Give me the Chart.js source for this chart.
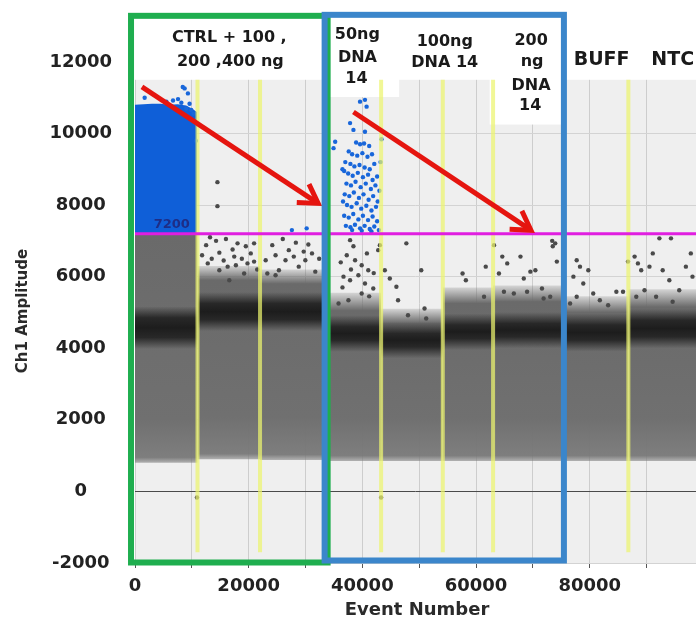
<!DOCTYPE html>
<html>
<head>
<meta charset="utf-8">
<script src="https://cdn.jsdelivr.net/npm/chart.js@4.4.1/dist/chart.umd.min.js"></script>
<style>
html,body{margin:0;padding:0;background:#fff;overflow:hidden}
#wrap{width:700px;height:621px;position:relative;overflow:hidden}
canvas{display:block}
</style>
</head>
<body>
<div id="wrap"><canvas id="c" width="700" height="621"></canvas></div>
<script>
// ---------------- DATA ----------------
// wells: event-number ranges and droplet-band amplitudes
const wellStart  = [0, 11000, 22000, 33600, 43300, 54150, 63000, 75300, 86800];
const wellEnd    = [11000, 22000, 33100, 43300, 54150, 63000, 75300, 86800, 98700];
const cloudLow   = [800, 900, 880, 850, 850, 850, 850, 850, 850];
const cloudHigh  = [7200, 5900, 5800, 5050, 4700, 5250, 5300, 5000, 5150];
const fringeHigh = [7200, 6300, 6200, 5550, 5100, 5700, 5750, 5450, 5650];
const coreLow    = [4300, 4800, 4800, 4220, 4040, 4270, 4320, 4230, 4320];
const coreHigh   = [4850, 5250, 5250, 4600, 4410, 4650, 4690, 4650, 4780];
// well separators (yellow)
const separators = [11000, 22000, 43300, 54150, 63000, 86800];
// threshold
const threshold = 7200;
// dense positive block of control well (top edge)
const positiveTopX = [0, 1500, 3000, 4500, 6000, 7500, 9000, 10000, 10900];
const positiveTopY = [10800, 10820, 10830, 10830, 10800, 10820, 10780, 10700, 10600];
// scattered positive droplets (blue)
const positiveDrops = [
 [8730,11260],[9310,11120],[6690,10920],[8150,10860],[9600,10830],[9890,10660],[10300,10550],[9020,10700],
 [7570,10960],[5530,10890],[1700,11000],[8400,11300],[10500,10300],[10700,9800],[27600,7300],[30200,7350],
 [39590,10890],[40460,10940],[40750,10750],[37840,10290],[38430,10100],[40460,10050],[35220,9770],[34930,9590],[43370,9840],
 [38900,9750],[39600,9700],[40300,9720],[41200,9650],[37600,9500],[38200,9420],[39100,9380],[40000,9450],[40900,9350],[41700,9420],
 [37000,9200],[37900,9150],[38600,9080],[39500,9120],[40400,9050],[41300,9000],[42100,9150],[36800,8950],[37500,8880],[38300,8820],
 [39200,8900],[40100,8780],[41000,8850],[41800,8700],[42600,8800],[37200,8600],[38000,8550],[38800,8650],[39700,8500],[40600,8600],
 [41500,8450],[42300,8550],[36900,8300],[37700,8250],[38500,8350],[39400,8200],[40200,8300],[41100,8150],[41900,8250],[42700,8100],
 [37300,8000],[38100,7950],[39000,8050],[39800,7900],[40700,7980],[41600,7850],[42400,7950],[36800,7700],[37600,7650],[38400,7750],
 [39300,7600],[40100,7700],[41000,7580],[41800,7680],[42600,7550],[37100,7420],[37900,7380],[38700,7450],[39600,7350],[40400,7420],
 [41300,7330],[42100,7400],[38200,7300],[39900,7280],[41600,7260],[36500,9000],[43000,8400],[42900,7300],[36600,8100],[43200,9200]
];
// scattered negative "rain" droplets (grey)
const rainDrops = [
 [12510,6880],[14260,7000],[14840,6670],[17170,6760],[18040,6930],[17460,6560],[12800,6370],[14840,6180],[16300,6280],
 [17750,6320],[19200,6090],[20370,6650],[20950,6930],[20950,6420],[19790,6370],[16590,5900],[14500,8640],[14500,7970],
 [11800,6600],[13500,6500],[15600,6450],[18800,6500],[21500,6200],[13200,7100],[16000,7050],[19500,6850],
 [22990,6460],[24150,6880],[24730,6600],[26480,6460],[27060,6740],[27940,6560],[28810,6280],[29970,6460],[31140,6650],
 [31720,6140],[25320,6180],[23280,6090],[29680,6700],[24730,6040],[26000,7050],[28300,6950],[30500,6900],[32400,6500],
 [37840,7020],[38430,6850],[37260,6600],[38720,6460],[39880,6320],[41040,6180],[39300,6040],[37840,5900],[40460,5810],
 [41920,5670],[36680,6000],[42790,6740],[43080,6880],[37550,5340],[39880,5530],[35810,5250],[36200,6400],[38000,6200],
 [40800,6650],[42000,6100],[36500,5700],[41200,5450],
 [43950,6180],[44830,5950],[45990,5720],[46280,5340],[47740,6930],[50360,6180],[48030,4920],[50940,5110],[51230,4830],
 [57630,6090],[58210,5900],[61710,6280],[64030,6090],[64620,6560],[64910,5580],[65490,6370],[67820,6560],[68400,5950],
 [69560,6140],[70440,6180],[71600,5670],[73050,5440],[73930,6930],[74220,6420],[61410,5440],[66650,5530],[68980,5580],
 [71890,5390],[63160,6880],[73400,7000],[73500,6850],
 [77710,6460],[78290,6280],[79750,6180],[77130,6000],[78870,5810],[80620,5530],[77710,5440],[76550,5250],[84690,5580],
 [85860,5580],[81780,5340],[83240,5200],
 [86730,6420],[87900,6560],[88480,6370],[89060,6180],[90510,6280],[92260,7070],[94300,7070],[91100,6650],[92840,6180],
 [94010,5900],[95750,5620],[96920,6280],[97790,6650],[89640,5620],[88190,5440],[91680,5440],[94590,5300],[98080,6000],
 [10900,-170],[43300,-170]
];
// axis ticks
const yTicks = [-2000, 0, 2000, 4000, 6000, 8000, 10000, 12000];
const xTicks = [0, 10000, 20000, 30000, 40000, 50000, 60000, 70000, 80000, 90000];
const xLabelled = [0, 20000, 40000, 60000, 80000];

// ---------------- ANNOTATIONS (layout, in data units) ----------------
const groupBoxes = [
  {x0:-700, x1:33890, y0:-1986, y1:13287, color:'#1fae4f'},
  {x0:33360, x1:75460, y0:-1930, y1:13315, color:'#3b86cb'}
];
const whiteBoxes = [
  {x0:0, x1:98700, y0:11500},
  {x0:34000, x1:46300, y0:11020},
  {x0:62400, x1:75300, y0:10250}
];
const arrows = [
  {x0:1220, y0:11300, x1:32660, y1:8000},
  {x0:38430, y0:10600, x1:70100, y1:7250}
];
const labels = [
  {t:'CTRL + 100 ,', x:16590, y:12680, s:16, a:'center'},
  {t:'200 ,400 ng',  x:16770, y:12010, s:16, a:'center'},
  {t:'50ng',   x:39130, y:12760, s:16, a:'center'},
  {t:'DNA',    x:39130, y:12120, s:16, a:'center'},
  {t:'14',     x:38950, y:11530, s:16, a:'center'},
  {t:'100ng',  x:54500, y:12560, s:16, a:'center'},
  {t:'DNA 14', x:54500, y:11970, s:16, a:'center'},
  {t:'200',    x:69690, y:12590, s:16, a:'center'},
  {t:'ng',     x:69870, y:11990, s:16, a:'center'},
  {t:'DNA',    x:69690, y:11330, s:16, a:'center'},
  {t:'14',     x:69520, y:10770, s:16, a:'center'},
  {t:'BUFF',   x:82100, y:12060, s:19, a:'center'},
  {t:'NTC',    x:90830, y:12060, s:19, a:'left'}
];

// ---------------- BUILD DATASETS ----------------
const FONT = '"DejaVu Sans", sans-serif';
Chart.defaults.font.family = FONT;

// vertical gradient between two amplitude values (stops given as [value, colour])
function vGrad(stops, fallback){
  return (c) => {
    const ch = c.chart;
    if (!ch.chartArea || !ch.scales.y) return fallback;
    const y = ch.scales.y;
    const p0 = y.getPixelForValue(stops[0][0]);
    const p1 = y.getPixelForValue(stops[stops.length - 1][0]);
    if (!isFinite(p0) || !isFinite(p1) || p0 === p1) return fallback;
    const g = ch.ctx.createLinearGradient(0, p0, 0, p1);
    stops.forEach(([v, col]) => {
      const o = (y.getPixelForValue(v) - p0) / (p1 - p0);
      g.addColorStop(Math.min(1, Math.max(0, o)), col);
    });
    return g;
  };
}
const datasets = [];
const band = (x0, x1, hi, lo, color, order) => ({
  type:'line', data:[{x:x0,y:hi},{x:x1,y:hi}], fill:{value:lo},
  backgroundColor:color, borderColor:'rgba(0,0,0,0)', borderWidth:0,
  pointRadius:0, tension:0, order
});
wellStart.forEach((s, i) => {
  const e = wellEnd[i];
  const top = fringeHigh[i], hi = cloudHigh[i], lo = cloudLow[i];
  datasets.push(band(s, e, top, lo, vGrad([
    [top, top > hi ? 'rgba(108,108,108,0.2)' : 'rgba(108,108,108,1)'],
    [hi, 'rgba(106,106,106,1)'],
    [lo + 1200, 'rgba(112,112,112,1)'],
    [lo + 150, 'rgba(120,120,120,0.95)'],
    [lo, 'rgba(125,125,125,0.55)']
  ], '#6a6a6a'), 100));
  const cl = coreLow[i], chh = coreHigh[i];
  datasets.push(band(s, e, chh + 320, cl - 320, vGrad([
    [chh + 320, 'rgba(25,25,25,0)'],
    [chh, 'rgba(25,25,25,0.82)'],
    [(chh + cl) / 2, 'rgba(20,20,20,0.9)'],
    [cl, 'rgba(25,25,25,0.82)'],
    [cl - 320, 'rgba(25,25,25,0)']
  ], 'rgba(25,25,25,0.7)'), 97));
});
datasets.push({
  type:'line', data: positiveTopX.map((x, i) => ({x, y: positiveTopY[i]})), fill:{value:threshold},
  backgroundColor:'#0f5fd8', borderColor:'rgba(0,0,0,0)', borderWidth:0, pointRadius:0, tension:0, order:96
});
datasets.push({
  type:'scatter', data: rainDrops.map(([x, y]) => ({x, y})), pointRadius:2.2, pointBorderWidth:0,
  backgroundColor:'#4a4a4a', borderColor:'#4a4a4a', order:90
});
datasets.push({
  type:'scatter', data: positiveDrops.map(([x, y]) => ({x, y})), pointRadius:2.2, pointBorderWidth:0,
  backgroundColor:'#1866da', borderColor:'#1866da', order:89
});
separators.forEach(x => datasets.push({
  type:'line', data:[{x, y:-1700},{x, y:11500}], borderColor:'rgba(236,244,110,0.72)', borderWidth:4,
  pointRadius:0, fill:false, order:80
}));
datasets.push({
  type:'line', data:[{x:0, y:threshold},{x:98700, y:threshold}], borderColor:'#e01fe0', borderWidth:3,
  pointRadius:0, fill:false, order:70
});

// ---------------- PLUGIN: background, boxes, arrows, texts ----------------
const decor = {
  id:'decor',
  beforeDraw(chart){
    const {ctx, chartArea:a} = chart;
    ctx.save();
    ctx.fillStyle = '#ffffff'; ctx.fillRect(0, 0, chart.width, chart.height);
    ctx.fillStyle = '#efefef'; ctx.fillRect(a.left, a.top, a.right - a.left, a.bottom - a.top);
    ctx.restore();
  },
  beforeDatasetsDraw(chart){
    const {ctx, scales:{x, y}, chartArea:a} = chart;
    ctx.save();
    ctx.fillStyle = '#ffffff';
    whiteBoxes.forEach(b => {
      const x0 = x.getPixelForValue(b.x0), x1 = x.getPixelForValue(b.x1);
      const yb = y.getPixelForValue(b.y0);
      ctx.fillRect(x0, a.top - 1, x1 - x0 + 1, yb - a.top + 1);
    });
    ctx.restore();
  },
  afterDatasetsDraw(chart){
    const {ctx, scales:{x, y}} = chart;
    ctx.save();
    ctx.font = 'bold 13px ' + FONT;
    ctx.fillStyle = '#1e2d86';
    ctx.textAlign = 'center'; ctx.textBaseline = 'middle';
    ctx.fillText(String(threshold), x.getPixelForValue(6460), y.getPixelForValue(7460));
    ctx.strokeStyle = '#e5150f'; ctx.fillStyle = '#e5150f';
    arrows.forEach(ar => {
      const x1 = x.getPixelForValue(ar.x0), y1 = y.getPixelForValue(ar.y0);
      const x2 = x.getPixelForValue(ar.x1), y2 = y.getPixelForValue(ar.y1);
      const ang = Math.atan2(y1 - y2, x1 - x2);
      ctx.lineWidth = 5; ctx.lineCap = 'butt';
      ctx.beginPath(); ctx.moveTo(x1, y1);
      ctx.lineTo(x2 + 4 * Math.cos(ang), y2 + 4 * Math.sin(ang)); ctx.stroke();
      const L = 24, w = 0.48;
      ctx.lineJoin = 'miter'; ctx.lineWidth = 5;
      ctx.beginPath();
      ctx.moveTo(x2 + L * Math.cos(ang + w), y2 + L * Math.sin(ang + w));
      ctx.lineTo(x2 + 3 * Math.cos(ang), y2 + 3 * Math.sin(ang));
      ctx.lineTo(x2 + L * Math.cos(ang - w), y2 + L * Math.sin(ang - w));
      ctx.stroke();
    });
    ctx.restore();
  },
  afterDraw(chart){
    const {ctx, scales:{x, y}} = chart;
    ctx.save();
    groupBoxes.forEach(b => {
      ctx.strokeStyle = b.color; ctx.lineWidth = 6; ctx.lineJoin = 'miter';
      const x0 = x.getPixelForValue(b.x0), x1 = x.getPixelForValue(b.x1);
      const y0 = y.getPixelForValue(b.y1), y1 = y.getPixelForValue(b.y0);
      ctx.strokeRect(x0, y0, x1 - x0, y1 - y0);
    });
    ctx.fillStyle = '#1a1a1a';
    ctx.textBaseline = 'middle';
    labels.forEach(l => {
      ctx.font = 'bold ' + l.s + 'px ' + FONT;
      ctx.textAlign = l.a;
      ctx.fillText(l.t, x.getPixelForValue(l.x), y.getPixelForValue(l.y));
    });
    ctx.fillStyle = '#2a2a2a';
    ctx.font = 'bold 18px ' + FONT; ctx.textAlign = 'center';
    ctx.fillText('Event Number', 417, 610);
    ctx.save();
    ctx.translate(23, 311); ctx.rotate(-Math.PI / 2);
    ctx.font = 'bold 15px ' + FONT;
    ctx.fillText('Ch1 Amplitude', 0, 0);
    ctx.restore();
    ctx.restore();
  }
};

new Chart(document.getElementById('c'), {
  type:'scatter',
  data:{datasets},
  plugins:[decor],
  options:{
    responsive:false, animation:false, events:[],
    layout:{padding:{top:44, right:0, left:0, bottom:0}},
    plugins:{legend:{display:false}, tooltip:{enabled:false}},
    scales:{
      x:{
        type:'linear', min:0, max:98700,
        afterFit(s){ s.height = 58; },
        afterBuildTicks(s){ s.ticks = xTicks.map(v => ({value:v})); },
        ticks:{
          autoSkip:false, maxRotation:0, padding:8, color:'#222',
          font:{family:FONT, weight:'bold', size:18},
          callback: v => xLabelled.includes(v) ? String(v) : ''
        },
        grid:{color:'#cdcdcd', lineWidth:1, drawTicks:true, tickLength:5, tickColor:'#555'},
        border:{display:false}
      },
      y:{
        type:'linear', min:-2000, max:12500,
        afterFit(s){ s.width = 135; },
        afterBuildTicks(s){ s.ticks = yTicks.map(v => ({value:v})); },
        ticks:{
          padding:23, crossAlign:'center', color:'#222',
          font:{family:FONT, weight:'bold', size:18},
          callback: v => String(v)
        },
        grid:{color: c => (c.tick && c.tick.value === 0) ? '#4a4a4a' : '#d3d3d3', lineWidth:1, drawTicks:false},
        border:{display:false}
      }
    }
  }
});
</script>
</body>
</html>
